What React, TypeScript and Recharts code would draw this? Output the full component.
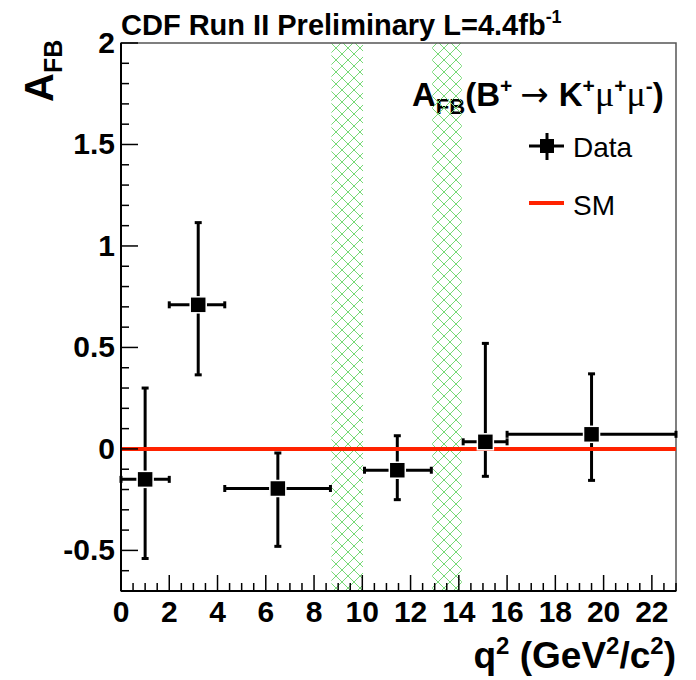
import React from "react";
import {
  ComposedChart,
  Scatter,
  XAxis,
  YAxis,
  ErrorBar,
  ReferenceArea,
  ReferenceLine,
} from "recharts";

// q^2 bins (GeV^2/c^2) and measured A_FB
const Q2_CENTER = [1.0, 3.2, 6.5, 11.45, 15.1, 19.5];
const Q2_LOW = [0, 2.0, 4.3, 10.09, 14.18, 16.0];
const Q2_HIGH = [2.0, 4.3, 8.68, 12.86, 16.0, 23.0];
const AFB = [-0.15, 0.71, -0.195, -0.105, 0.035, 0.072];
const AFB_LOW = [-0.54, 0.365, -0.48, -0.25, -0.135, -0.155];
const AFB_HIGH = [0.3, 1.115, -0.02, 0.065, 0.52, 0.37];

// charmonium veto regions
const VETO_LOW = [8.72, 12.9];
const VETO_HIGH = [10.03, 14.12];

const SM_VALUE = 0;

const X_DOMAIN = [0, 23];
const Y_DOMAIN = [-0.7, 2];
const X_LABEL_TICKS = [0, 2, 4, 6, 8, 10, 12, 14, 16, 18, 20, 22];
const Y_LABEL_TICKS = [-0.5, 0, 0.5, 1, 1.5, 2];
const X_MINOR_STEP = 0.5;
const Y_MINOR_STEP = 0.1;

const FONT = "'Liberation Sans', Arial, Helvetica, sans-serif";
const GREEK = "'Liberation Serif', serif";

function steps(lo: number, hi: number, step: number) {
  const out: number[] = [];
  const n = Math.round((hi - lo) / step);
  for (let i = 0; i <= n; i++) out.push(Math.round((lo + i * step) * 1000) / 1000);
  return out;
}

const X_TICKS = steps(X_DOMAIN[0], X_DOMAIN[1], X_MINOR_STEP);
const Y_TICKS = steps(Y_DOMAIN[0], Y_DOMAIN[1], Y_MINOR_STEP);

const points = Q2_CENTER.map((x, i) => ({
  x,
  y: AFB[i],
  xErr: [x - Q2_LOW[i], Q2_HIGH[i] - x],
  yErr: [AFB[i] - AFB_LOW[i], AFB_HIGH[i] - AFB[i]],
}));

const isIn = (arr: number[], v: number) => arr.some((t) => Math.abs(t - v) < 1e-6);

function XTick(props: any) {
  const { x, y, payload } = props;
  const major = isIn(X_LABEL_TICKS, payload.value);
  return (
    <g>
      <line x1={x} x2={x} y1={y} y2={y - (major ? 16 : 8)} stroke="#000" strokeWidth={1.5} />
      {major && (
        <text x={x} y={y + 31} textAnchor="middle" fontFamily={FONT} fontWeight="bold" fontSize={30} fill="#000">
          {payload.value}
        </text>
      )}
    </g>
  );
}

function YTick(props: any) {
  const { x, y, payload } = props;
  const major = isIn(Y_LABEL_TICKS, payload.value);
  return (
    <g>
      <line x1={x} x2={x + (major ? 17 : 8)} y1={y} y2={y} stroke="#000" strokeWidth={1.5} />
      {major && (
        <text x={x - 6} y={y + 10} textAnchor="end" fontFamily={FONT} fontWeight="bold" fontSize={30} fill="#000">
          {payload.value}
        </text>
      )}
    </g>
  );
}

const square = (props: any) => (
  <rect x={props.cx - 8} y={props.cy - 8} width={16} height={16} fill="#000" stroke="#fff" strokeWidth={1.5} />
);

export default function App() {
  return (
    <div style={{ position: "absolute", left: 0, top: 0, background: "#fff" }}>
      <ComposedChart width={696} height={680} margin={{ top: 43, right: 20, bottom: 0, left: 0 }}>
        <defs>
          <pattern id="hatch" width="12" height="12" patternUnits="userSpaceOnUse">
            <path d="M0,0 L12,12 M12,0 L0,12" stroke="#76d976" strokeWidth={1} />
          </pattern>
        </defs>
        <XAxis
          type="number"
          dataKey="x"
          domain={X_DOMAIN}
          ticks={X_TICKS}
          interval={0}
          allowDataOverflow
          height={89}
          tickSize={0}
          tickMargin={0}
          tickLine={false}
          tick={<XTick />}
          axisLine={{ stroke: "#000", strokeWidth: 2 }}
        />
        <YAxis
          type="number"
          dataKey="y"
          domain={Y_DOMAIN}
          ticks={Y_TICKS}
          interval={0}
          allowDataOverflow
          width={121}
          tickSize={0}
          tickMargin={0}
          tickLine={false}
          tick={<YTick />}
          axisLine={{ stroke: "#000", strokeWidth: 2 }}
        />
        {VETO_LOW.map((lo, i) => (
          <ReferenceArea key={i} x1={lo} x2={VETO_HIGH[i]} y1={Y_DOMAIN[0]} y2={Y_DOMAIN[1]} fill="url(#hatch)" fillOpacity={1} stroke="none" />
        ))}
        <ReferenceArea
          x1={X_DOMAIN[0]}
          x2={X_DOMAIN[1]}
          y1={Y_DOMAIN[0]}
          y2={Y_DOMAIN[1]}
          fill="none"
          stroke="#555"
          strokeWidth={1.5}
        />
        <Scatter data={points} shape={square} isAnimationActive={false}>
          <ErrorBar dataKey="xErr" direction="x" width={3.5} stroke="#000" strokeWidth={3} isAnimationActive={false} />
          <ErrorBar dataKey="yErr" direction="y" width={3.5} stroke="#000" strokeWidth={3} isAnimationActive={false} />
        </Scatter>
        <ReferenceLine y={SM_VALUE} stroke="#ff2200" strokeWidth={4} />

        {/* titles */}
        <text x={121} y={35} fontFamily={FONT} fontWeight="bold" fontSize={29} fill="#000">
          CDF Run II Preliminary L=4.4fb
          <tspan dy={-12} fontSize={18}>-1</tspan>
        </text>
        <text x={676} y={668} textAnchor="end" fontFamily={FONT} fontWeight="bold" fontSize={37} fill="#000">
          q<tspan dy={-14} fontSize={24}>2</tspan>
          <tspan dy={14}> (GeV</tspan>
          <tspan dy={-14} fontSize={24}>2</tspan>
          <tspan dy={14}>/c</tspan>
          <tspan dy={-14} fontSize={24}>2</tspan>
          <tspan dy={14}>)</tspan>
        </text>
        <text transform="translate(53,102) rotate(-90)" fontFamily={FONT} fontWeight="bold" fontSize={40} fill="#000">
          A<tspan dy={9} fontSize={25}>FB</tspan>
        </text>

        {/* legend */}
        <text x={412} y={106} fontFamily={FONT} fontWeight="bold" fontSize={33} fill="#000">
          A<tspan dy={8} fontSize={22}>FB</tspan>
          <tspan dy={-8}>(B</tspan>
          <tspan dy={-13} fontSize={21}>+</tspan>
          <tspan dy={13} dx={8} fontWeight="normal" fontFamily="'DejaVu Sans', sans-serif" fontSize={34}>→</tspan>
          <tspan dx={10}>K</tspan>
          <tspan dy={-13} fontSize={21}>+</tspan>
          <tspan dy={13} fontWeight="normal" fontFamily={GREEK} fontSize={36}>μ</tspan>
          <tspan dy={-13} fontSize={21}>+</tspan>
          <tspan dy={13} fontWeight="normal" fontFamily={GREEK} fontSize={36}>μ</tspan>
          <tspan dy={-13} fontSize={21}>-</tspan>
          <tspan dy={13}>)</tspan>
        </text>
        <line x1={529} x2={564} y1={146} y2={146} stroke="#000" strokeWidth={3} />
        <line x1={547} x2={547} y1={133} y2={160} stroke="#000" strokeWidth={3} />
        <rect x={540} y={139} width={14} height={14} fill="#000" />
        <text x={573} y={157} fontFamily={FONT} fontSize={28} fill="#000">Data</text>
        <line x1={529} x2={564} y1={203} y2={203} stroke="#ff2200" strokeWidth={4} />
        <text x={573} y={215} fontFamily={FONT} fontSize={28} fill="#000">SM</text>
      </ComposedChart>
    </div>
  );
}
